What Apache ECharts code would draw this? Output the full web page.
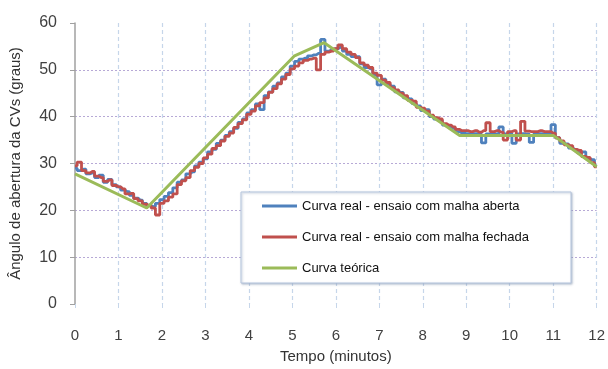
<!DOCTYPE html>
<html>
<head>
<meta charset="utf-8">
<script src="https://cdn.jsdelivr.net/npm/echarts@6/dist/echarts.min.js"></script>
<style>
  html, body { margin: 0; padding: 0; background: #fff; }
  #chart { width: 608px; height: 369px; }
</style>
</head>
<body>
<div id="chart"></div>
<script>
// Sampling instants (minutes), every 0.1 min from 0 to 12
const tempo = [
  0.0,0.1,0.2,0.3,0.4,0.5,0.6,0.7,0.8,0.9,
  1.0,1.1,1.2,1.3,1.4,1.5,1.6,1.7,1.8,1.9,
  2.0,2.1,2.2,2.3,2.4,2.5,2.6,2.7,2.8,2.9,
  3.0,3.1,3.2,3.3,3.4,3.5,3.6,3.7,3.8,3.9,
  4.0,4.1,4.2,4.3,4.4,4.5,4.6,4.7,4.8,4.9,
  5.0,5.1,5.2,5.3,5.4,5.5,5.6,5.7,5.8,5.9,
  6.0,6.1,6.2,6.3,6.4,6.5,6.6,6.7,6.8,6.9,
  7.0,7.1,7.2,7.3,7.4,7.5,7.6,7.7,7.8,7.9,
  8.0,8.1,8.2,8.3,8.4,8.5,8.6,8.7,8.8,8.9,
  9.0,9.1,9.2,9.3,9.4,9.5,9.6,9.7,9.8,9.9,
  10.0,10.1,10.2,10.3,10.4,10.5,10.6,10.7,10.8,10.9,
  11.0,11.1,11.2,11.3,11.4,11.5,11.6,11.7,11.8,11.9,
  12.0
];

// Measured valve angle, open-loop test (degrees)
const malhaAberta = [
  29.0,28.5,28.8,27.8,28.0,27.0,27.5,26.0,26.6,25.5,
  25.0,24.3,24.0,23.2,22.6,22.2,21.5,21.0,20.8,21.5,
  22.3,23.0,23.8,24.8,26.0,26.5,27.8,28.2,29.5,30.3,
  31.0,32.5,33.0,34.3,35.0,36.0,36.8,37.5,38.8,39.5,
  40.8,41.5,42.7,41.5,44.5,45.3,46.5,47.2,48.5,49.3,
  50.8,51.8,52.3,52.5,53.0,53.2,53.5,56.5,54.0,54.3,
  54.5,54.8,54.0,53.3,52.8,52.8,51.3,50.5,50.2,49.0,
  46.8,48.0,47.0,46.5,45.3,45.2,44.0,43.8,42.8,42.3,
  41.3,41.5,40.0,39.5,39.2,38.2,37.8,37.5,36.8,36.5,
  36.4,36.3,36.4,36.3,34.4,36.3,36.4,36.3,37.8,36.3,
  36.4,34.3,36.3,36.4,36.3,34.5,36.3,36.4,36.3,36.4,
  38.3,35.5,34.3,34.2,33.3,33.0,32.3,32.5,31.0,30.8,
  29.5
];

// Measured valve angle, closed-loop test (degrees)
const malhaFechada = [
  29.5,30.3,28.5,28.0,28.3,27.3,27.0,26.2,26.5,25.3,
  25.0,24.6,23.5,23.6,22.5,22.0,21.3,21.0,20.5,19.0,
  21.5,22.0,22.8,23.5,25.5,26.3,27.0,28.5,29.2,30.0,
  31.2,32.0,33.2,33.8,34.8,35.8,36.5,37.7,38.5,39.3,
  40.5,41.2,42.3,43.0,44.0,45.2,46.0,47.0,48.0,49.0,
  50.2,50.8,51.5,52.0,52.3,52.5,50.0,53.3,53.8,54.0,
  54.5,55.3,54.5,53.8,53.3,52.6,51.5,51.0,50.5,49.3,
  48.8,47.8,47.3,46.2,45.7,45.0,44.5,43.5,43.3,42.0,
  41.8,41.2,40.3,39.8,39.5,38.5,38.2,37.8,37.3,37.0,
  37.0,36.8,37.0,36.7,37.0,38.7,36.8,37.0,36.7,35.0,
  36.8,37.0,35.0,39.0,36.9,36.8,36.8,37.0,36.8,36.8,
  36.5,35.5,34.8,34.0,33.8,33.0,32.8,31.5,31.3,30.2,
  29.3
];

// Theoretical curve breakpoints
const tempoTeorico = [0, 1.65, 5.05, 5.73, 8.85, 11.0, 12.0];
const curvaTeorica = [27.8, 20.5, 53.0, 55.8, 36.0, 36.0, 29.3];

// Axis ticks
const xTicks = [0,1,2,3,4,5,6,7,8,9,10,11,12];
const yTicks = [0,10,20,30,40,50,60];

const nomes = [
  'Curva real - ensaio com malha aberta',
  'Curva real - ensaio com malha fechada',
  'Curva teórica'
];

const pares = (xs, ys) => xs.map((x, i) => [x, ys[i]]);

const FONT = '"Liberation Sans", Arial, sans-serif';

const chart = echarts.init(document.getElementById('chart'), null, { renderer: 'canvas' });

chart.setOption({
  animation: false,
  backgroundColor: '#ffffff',
  grid: { left: 73, right: 7, top: 23, bottom: 56, containLabel: false },
  graphic: [{
    type: 'rect',
    z: 3,
    shape: { x: 241, y: 192, width: 330, height: 91 },
    style: {
      fill: '#ffffff',
      stroke: '#b4c4dc',
      lineWidth: 1,
      shadowColor: 'rgba(120,140,170,0.5)',
      shadowBlur: 2,
      shadowOffsetX: 1,
      shadowOffsetY: 1
    }
  }],
  legend: {
    z: 5,
    orient: 'vertical',
    left: 262,
    top: 198,
    padding: 0,
    itemWidth: 35,
    itemHeight: 3,
    itemGap: 15,
    icon: 'rect',
    data: nomes,
    textStyle: { fontFamily: FONT, fontSize: 13, color: '#111111', lineHeight: 16 }
  },
  xAxis: {
    type: 'value',
    min: 0,
    max: 12,
    interval: 1,
    name: 'Tempo (minutos)',
    nameLocation: 'middle',
    nameGap: 45,
    nameTextStyle: { fontFamily: FONT, fontSize: 15, color: '#333333' },
    axisLine: { show: false },
    axisTick: { show: true, length: 5, lineStyle: { color: '#c6d6ea', type: 'dashed' } },
    axisLabel: {
      fontFamily: FONT, fontSize: 15, color: '#404040', margin: 24,
      formatter: v => (xTicks.includes(v) ? String(v) : '')
    },
    splitLine: {
      show: true,
      showMinLine: false,
      lineStyle: { color: '#c6d6ea', type: [4, 3], width: 1.2 }
    }
  },
  yAxis: {
    type: 'value',
    min: 0,
    max: 60,
    interval: 10,
    name: 'Ângulo de abertura da CVs (graus)',
    nameLocation: 'middle',
    nameGap: 52,
    nameTextStyle: { fontFamily: FONT, fontSize: 15, color: '#333333' },
    axisLine: { show: true, lineStyle: { color: '#a0a0a0', width: 1.5 } },
    axisTick: { show: true, length: 5, lineStyle: { color: '#a0a0a0' } },
    axisLabel: {
      fontFamily: FONT, fontSize: 16, color: '#404040', margin: 18,
      formatter: v => (yTicks.includes(v) ? String(v) : '')
    },
    splitLine: {
      show: true,
      showMinLine: false,
      showMaxLine: false,
      lineStyle: { color: '#b7a9d6', type: [2, 2], width: 1 }
    }
  },
  series: [
    {
      name: nomes[0],
      type: 'line',
      step: 'middle',
      data: pares(tempo, malhaAberta),
      showSymbol: false,
      color: '#4f81bd',
      lineStyle: { color: '#4f81bd', width: 2.8 },
      z: 2
    },
    {
      name: nomes[1],
      type: 'line',
      step: 'middle',
      data: pares(tempo, malhaFechada),
      showSymbol: false,
      color: '#c0504d',
      lineStyle: { color: '#c0504d', width: 2.8 },
      z: 2
    },
    {
      name: nomes[2],
      type: 'line',
      data: pares(tempoTeorico, curvaTeorica),
      showSymbol: false,
      color: '#9bbb59',
      lineStyle: { color: '#9bbb59', width: 3 },
      z: 2
    }
  ]
});
</script>
</body>
</html>
